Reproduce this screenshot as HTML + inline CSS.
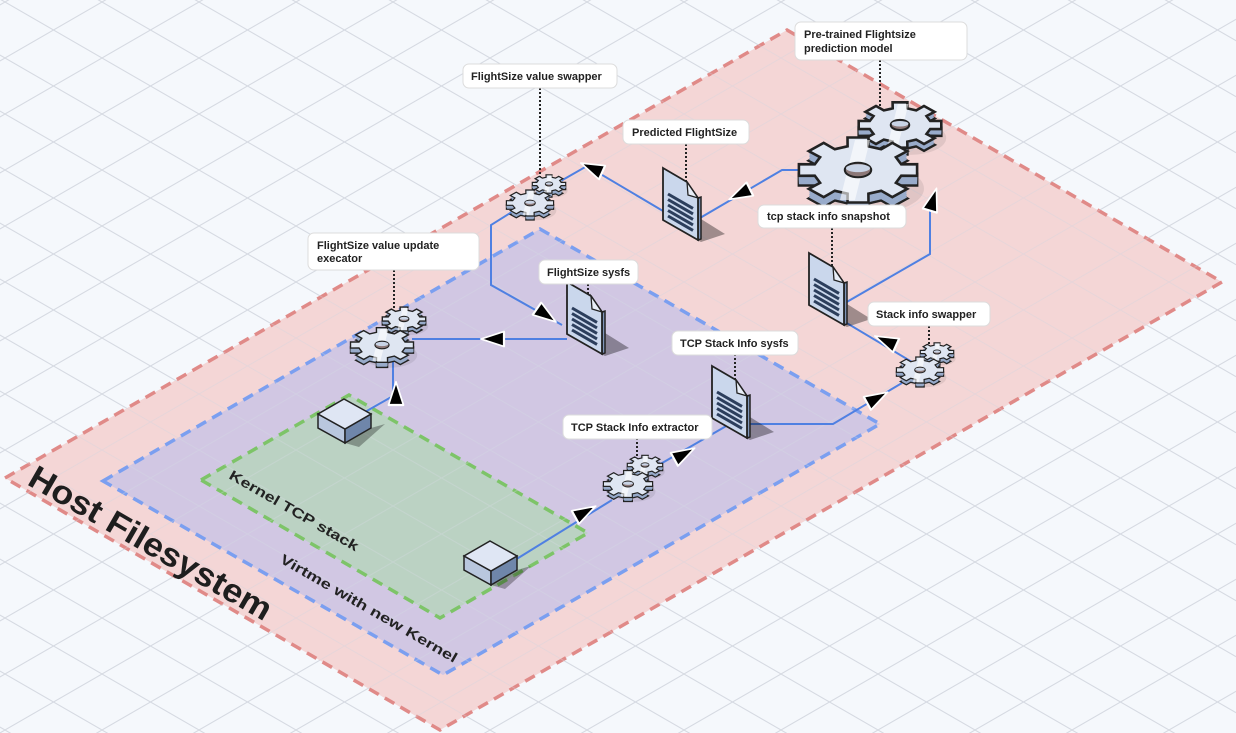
<!DOCTYPE html>
<html><head><meta charset="utf-8"><style>
html,body{margin:0;padding:0;background:#f5f8fc;}
svg{display:block;font-family:"Liberation Sans",sans-serif;}
.lbl{fill:#fff;stroke:#dcdcdc;stroke-width:1;}
.lt{font-size:11px;font-weight:bold;fill:#222;}
.dot{stroke:#222;stroke-width:2;stroke-dasharray:2 2;fill:none;}
.con{stroke:#4f80e2;stroke-width:2;fill:none;}
</style></head><body>
<svg id="s" width="1236" height="733" viewBox="0 0 1236 733" xmlns="http://www.w3.org/2000/svg">
<defs>
<pattern id="grid" x="5" y="2" width="97" height="56" patternUnits="userSpaceOnUse">
<path d="M0,0 L97,56 M97,0 L0,56" stroke="#d6dae2" stroke-width="1" fill="none"/>
</pattern>
</defs>
<rect width="1236" height="733" fill="#f5f8fc"/>
<rect width="1236" height="733" fill="url(#grid)"/>
<polygon points="5,478 787,30 1222,282 440,730" fill="#f3d2d3" fill-opacity="0.92" stroke="#e08a88" stroke-width="3.5" stroke-dasharray="11 7"/>
<polygon points="103,481 540,229 880,424 443,675" fill="#cdc6e4" fill-opacity="0.92" stroke="#7b9ff0" stroke-width="3.5" stroke-dasharray="11 7"/>
<polygon points="201,480 349,395 588,533 440,618" fill="#b9d3c1" fill-opacity="0.95" stroke="#7dc468" stroke-width="3.5" stroke-dasharray="11 7"/>
<rect width="1236" height="733" fill="url(#grid)" opacity="0.35"/>

<text transform="translate(26,484) rotate(30)" font-size="33" font-weight="bold" fill="#1e1e1e" textLength="275" lengthAdjust="spacingAndGlyphs">Host Filesystem</text>
<text transform="translate(228,478) rotate(30)" font-size="14" font-weight="bold" fill="#222" textLength="147" lengthAdjust="spacingAndGlyphs">Kernel TCP stack</text>
<text transform="translate(279,562) rotate(30)" font-size="14" font-weight="bold" fill="#222" textLength="202" lengthAdjust="spacingAndGlyphs">Virtme with new Kernel</text>

<g id="cons">
<path class="con" d="M365,412 L393,396 L393,362"/>
<path class="con" d="M567,339 L412,339"/>
<path class="con" d="M515,210 L491,225 L491,285 L562,325"/>
<path class="con" d="M545,190 L587,166 L663,211"/>
<path class="con" d="M800,170 L782,170 L700,218"/>
<path class="con" d="M845,303 L930,254 L930,205"/>
<path class="con" d="M912,362 L845,322"/>
<path class="con" d="M747,424 L833,424 L902,383"/>
<path class="con" d="M650,470 L728,425"/>
<path class="con" d="M515,560 L612,500"/>
</g>

<g id="dots">
<path class="dot" d="M880,60 V110"/>
<path class="dot" d="M540,88 V178"/>
<path class="dot" d="M686,144 V182"/>
<path class="dot" d="M832,228 V266"/>
<path class="dot" d="M394,270 V312"/>
<path class="dot" d="M588,284 V298"/>
<path class="dot" d="M929,326 V348"/>
<path class="dot" d="M735,354 V380"/>
<path class="dot" d="M637,438 V462"/>
</g>

<g id="objs"></g>
<g id="arrows"></g>

<g>
<rect class="lbl" x="795" y="22" width="172" height="38" rx="6"/>
<text class="lt" x="804" y="38">Pre-trained Flightsize</text>
<text class="lt" x="804" y="52">prediction model</text>
<rect class="lbl" x="463" y="64" width="154" height="24" rx="6"/>
<text class="lt" x="471" y="80">FlightSize value swapper</text>
<rect class="lbl" x="623" y="120" width="126" height="24" rx="6"/>
<text class="lt" x="632" y="136">Predicted FlightSize</text>
<rect class="lbl" x="758" y="205" width="148" height="23" rx="6"/>
<text class="lt" x="767" y="220">tcp stack info snapshot</text>
<rect class="lbl" x="308" y="233" width="171" height="37" rx="6"/>
<text class="lt" x="317" y="249">FlightSize value update</text>
<text class="lt" x="317" y="262">execator</text>
<rect class="lbl" x="539" y="260" width="99" height="24" rx="6"/>
<text class="lt" x="547" y="276">FlightSize sysfs</text>
<rect class="lbl" x="868" y="302" width="122" height="24" rx="6"/>
<text class="lt" x="876" y="318">Stack info swapper</text>
<rect class="lbl" x="672" y="331" width="126" height="24" rx="6"/>
<text class="lt" x="680" y="347">TCP Stack Info sysfs</text>
<rect class="lbl" x="563" y="415" width="149" height="24" rx="6"/>
<text class="lt" x="571" y="431">TCP Stack Info extractor</text>
</g>
</svg>
<script>
var NS="http://www.w3.org/2000/svg";
var objs=document.getElementById("objs"),arr=document.getElementById("arrows");
function el(t,a,p){var e=document.createElementNS(NS,t);for(var k in a)e.setAttribute(k,a[k]);(p||objs).appendChild(e);return e;}
function gearPts(cx,cy,R,ky,dy){var n=8,pts=[],r=R*0.74;for(var i=0;i<n;i++){var b=i*2*Math.PI/n,s=Math.PI/n;
var a=[[b-s*0.6,r],[b-s*0.45,R],[b+s*0.45,R],[b+s*0.6,r],[b+s*1.4,r]];
a.forEach(function(q){pts.push((cx+q[1]*Math.cos(q[0])).toFixed(1)+","+(cy+dy+q[1]*Math.sin(q[0])*ky).toFixed(1));});}
return pts.join(" ");}
function gear(cx,cy,R,sw){var ky=0.55,th=Math.max(4,R*0.16);
el("ellipse",{cx:cx+R*0.25,cy:cy+th+R*0.15,rx:R*0.85,ry:R*0.4,fill:"#000",opacity:0.08});
el("polygon",{points:gearPts(cx,cy,R,ky,th),fill:"#8fa3c4",stroke:"#222","stroke-width":sw});
for(var k=1;k<th;k+=1.5)el("polygon",{points:gearPts(cx,cy,R,ky,k),fill:"#98abca",stroke:"none"});
el("polygon",{points:gearPts(cx,cy,R,ky,0),fill:"#dfe6f2",stroke:"#222","stroke-width":sw});
el("path",{d:"M"+(cx-R*0.05)+","+(cy-R*0.5)+" L"+(cx+R*0.2)+","+(cy-R*0.5)+" L"+(cx-R*0.05)+","+(cy+R*0.5)+" L"+(cx-R*0.3)+","+(cy+R*0.5)+"Z",fill:"#fff",opacity:0.6});
el("ellipse",{cx:cx,cy:cy,rx:R*0.22,ry:R*0.22*ky,fill:"#8c7878",stroke:"#222","stroke-width":sw*0.8});
el("ellipse",{cx:cx,cy:cy-R*0.03,rx:R*0.2,ry:R*0.12*ky,fill:"#c9d4e6"});}
function gpair(bx,by,br,sx,sy,sr,sw){gear(sx,sy,sr,sw);gear(bx,by,br,sw);}
function doc(x,y){
el("polygon",{points:(x+30)+","+(y+46)+" "+(x+62)+","+(y+66)+" "+(x+38)+","+(y+74)+" "+(x+30)+","+(y+70),fill:"#000",opacity:0.35});
el("polygon",{points:(x+35)+","+(y+30)+" "+(x+38)+","+(y+29)+" "+(x+38)+","+(y+71)+" "+(x+35)+","+(y+72),fill:"#7f95b8",stroke:"#222","stroke-width":1.5});
el("path",{d:"M"+x+","+y+" L"+(x+24)+","+(y+14)+" L"+(x+35)+","+(y+30)+" L"+(x+35)+","+(y+72)+" L"+x+","+(y+52)+" Z",fill:"#cad7ec",stroke:"#222","stroke-width":1.8});
el("path",{d:"M"+(x+24)+","+(y+14)+" L"+(x+25)+","+(y+27)+" L"+(x+35)+","+(y+30)+" Z",fill:"#e8eef8",stroke:"#222","stroke-width":1.3});
for(var i=0;i<5;i++){var yy=y+26+i*5.5;el("line",{x1:x+5,y1:yy,x2:x+30,y2:yy+14.4,stroke:"#2c3e5c","stroke-width":3});}}
function box(tx,ty,h){var T=[tx,ty],R=[tx+27,ty+15],B=[tx+1,ty+30],L=[tx-26,ty+15];
function p(a){return a.map(function(q){return q[0]+","+q[1];}).join(" ");}
el("polygon",{points:p([[B[0],B[1]+h],[R[0],R[1]+h],[R[0]+14,R[1]+h-4],[B[0]+14,B[1]+h+4]]),fill:"#000",opacity:0.3});
el("polygon",{points:p([L,B,[B[0],B[1]+h],[L[0],L[1]+h]]),fill:"#b9c7de",stroke:"#222","stroke-width":1.5});
el("polygon",{points:p([B,R,[R[0],R[1]+h],[B[0],B[1]+h]]),fill:"#6f86aa",stroke:"#222","stroke-width":1.5});
el("polygon",{points:p([T,R,B,L]),fill:"#dfe6f4",stroke:"#222","stroke-width":1.5});}
function arrow(x,y,dx,dy){var a=Math.atan2(dy,dx)*180/Math.PI;
el("polygon",{points:"12,0 -11,-10 -11,10",transform:"translate("+x+","+y+") rotate("+a+") scale(1,0.75)",fill:"#000",stroke:"#fff","stroke-width":2.2,"stroke-linejoin":"round"},arr);}
gpair(530,203,24,549,184,17,1.2);
gpair(382,345,32,404,319,22,1.4);
gpair(920,370,24,937,352,17,1.2);
gpair(628,484,25,645,465,18,1.2);
gpair(858,170,60,900,125,42,2.6);
doc(663,168);doc(809,253);doc(567,282);doc(712,366);
box(344,399,14);box(490,541,14);
arrow(396,394,0,-1);
arrow(493,339,-1,0);
arrow(546,315,1,0.7);
arrow(592,168,-1,-0.45);
arrow(740,194,-1,0.5);
arrow(933,200,0.3,-1);
arrow(886,341,-1,-0.45);
arrow(877,398,1,-0.55);
arrow(684,454,1,-0.55);
arrow(585,512,1,-0.55);
</script>
</body></html>
